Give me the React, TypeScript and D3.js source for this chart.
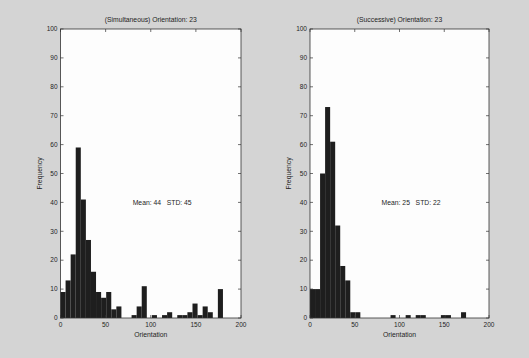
import React from 'react';
import * as d3 from 'd3';

// histogram bins: 32 bins over 0..180 degrees
const binCount = 32;
const binMax = 180;
const simultaneousCounts = [9, 13, 22, 59, 41, 27, 16, 9, 7, 9, 3, 4, 0, 0, 1, 4, 11, 0, 1, 0, 1, 2, 0, 1, 1, 2, 5, 1, 4, 2, 0, 10];
const successiveCounts = [10, 10, 50, 73, 61, 32, 18, 13, 2, 2, 0, 0, 0, 0, 0, 0, 1, 0, 0, 1, 0, 1, 1, 0, 0, 0, 1, 1, 0, 0, 2, 0];

const xTicks = [0, 50, 100, 150, 200];
const yTicks = [0, 10, 20, 30, 40, 50, 60, 70, 80, 90, 100];

const panels = [
  { title: '(Simultaneous) Orientation: 23', counts: simultaneousCounts, stats: 'Mean: 44   STD: 45', left: 60.5, right: 241 },
  { title: '(Successive) Orientation: 23', counts: successiveCounts, stats: 'Mean: 25   STD: 22', left: 310, right: 489 },
];

const TOP = 29;
const BOTTOM = 318;
const FONT = '"Liberation Sans", Arial, sans-serif';
const INK = '#1e1e1e';

function Panel({ p }: { p: typeof panels[number] }) {
  const x = d3.scaleLinear().domain([0, 200]).range([p.left, p.right]);
  const y = d3.scaleLinear().domain([0, 100]).range([BOTTOM, TOP]);
  const bw = binMax / binCount;
  const tl = 3;

  return (
    <g>
      <rect x={p.left} y={TOP} width={p.right - p.left} height={BOTTOM - TOP} fill="#fdfdfd" />
      {p.counts.map((c, i) =>
        c > 0 ? (
          <rect
            key={i}
            x={x(i * bw)}
            y={y(c)}
            width={x((i + 1) * bw) - x(i * bw)}
            height={y(0) - y(c)}
            fill={INK}
          />
        ) : null
      )}
      <rect x={p.left} y={TOP} width={p.right - p.left} height={BOTTOM - TOP} fill="none" stroke="#333" strokeWidth={0.8} />
      {yTicks.map((t) => (
        <g key={'y' + t}>
          <line x1={p.left} x2={p.left + tl} y1={y(t)} y2={y(t)} stroke="#333" strokeWidth={0.7} />
          <line x1={p.right} x2={p.right - tl} y1={y(t)} y2={y(t)} stroke="#333" strokeWidth={0.7} />
          <text x={p.left - 3} y={y(t)} dy="0.35em" textAnchor="end" fontSize={6.5} fontFamily={FONT} fill={INK}>
            {t}
          </text>
        </g>
      ))}
      {xTicks.map((t) => (
        <g key={'x' + t}>
          <line x1={x(t)} x2={x(t)} y1={BOTTOM} y2={BOTTOM - tl} stroke="#333" strokeWidth={0.7} />
          <line x1={x(t)} x2={x(t)} y1={TOP} y2={TOP + tl} stroke="#333" strokeWidth={0.7} />
          <text x={x(t)} y={BOTTOM + 9} textAnchor="middle" fontSize={6.5} fontFamily={FONT} fill={INK}>
            {t}
          </text>
        </g>
      ))}
      <text x={(p.left + p.right) / 2} y={TOP - 7} textAnchor="middle" fontSize={6.8} fontFamily={FONT} fill={INK}>
        {p.title}
      </text>
      <text x={(p.left + p.right) / 2} y={BOTTOM + 19} textAnchor="middle" fontSize={6.8} fontFamily={FONT} fill={INK}>
        Orientation
      </text>
      <text
        transform={`translate(${p.left - 19},${y(50)}) rotate(-90)`}
        textAnchor="middle"
        fontSize={6.8}
        fontFamily={FONT}
        fill={INK}
      >
        Frequency
      </text>
      <text x={x(80)} y={y(40)} dy="0.35em" fontSize={6.8} fontFamily={FONT} fill={INK} style={{ whiteSpace: 'pre' }}>
        {p.stats}
      </text>
    </g>
  );
}

export default function App() {
  return (
    <svg
      width={529}
      height={358}
      style={{ position: 'absolute', left: 0, top: 0, display: 'block' }}
    >
      <rect width={529} height={358} fill="#d4d4d4" />
      {panels.map((p) => (
        <Panel key={p.title} p={p} />
      ))}
    </svg>
  );
}
